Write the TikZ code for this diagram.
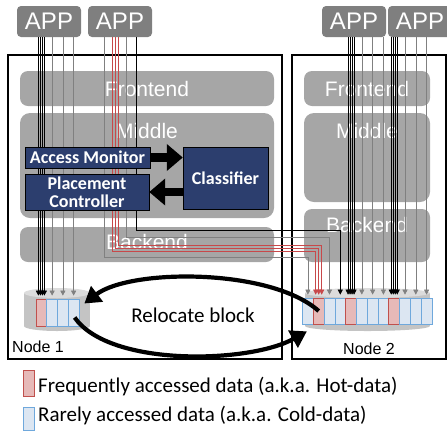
\documentclass[tikz,border=0pt]{standalone}
\usepackage{fontspec}
\setmainfont{Liberation Sans}
\newfontfamily\calibri{Carlito}
\usetikzlibrary{arrows.meta,calc,positioning}

\definecolor{appgray}{HTML}{7F7F7F}
\definecolor{layergray}{HTML}{A6A6A6}
\definecolor{modblue}{RGB}{44,62,110}
\definecolor{hotfill}{HTML}{E6B9B8}
\definecolor{hotdraw}{HTML}{C0504D}
\definecolor{coldfill}{HTML}{DCE6F2}
\definecolor{colddraw}{HTML}{6FA8DC}
\definecolor{diskbody}{HTML}{C4C4C4}
\definecolor{disktop}{HTML}{DCDCDC}
\definecolor{wiregray}{HTML}{808080}
\definecolor{wirered}{HTML}{C8484A}

\tikzstyle{app} = [
rectangle,
rounded corners=4pt,
minimum width=64pt,
minimum height=31pt,
inner sep=0pt,
fill=appgray,
text=white,
font=\fontsize{24}{24}\selectfont
]
\tikzstyle{frame} = [
rectangle,
draw=black,
line width=1.6pt
]
\tikzstyle{layer} = [
rectangle,
rounded corners=8pt,
fill=layergray,
text=white,
inner sep=0pt,
font=\fontsize{21}{21}\selectfont
]
\tikzstyle{layertext} = [
inner sep=0pt,
text=white,
font=\fontsize{21}{21}\selectfont
]
\tikzstyle{module} = [
rectangle,
draw=black,
fill=modblue,
text=white,
align=center,
inner sep=0pt,
font=\calibri\bfseries\fontsize{18}{18}\selectfont
]
\tikzstyle{hotblock} = [
rectangle,
draw=hotdraw,
fill=hotfill,
line width=0.7pt,
inner sep=0pt
]
\tikzstyle{coldblock} = [
rectangle,
draw=colddraw,
fill=coldfill,
line width=0.7pt,
inner sep=0pt
]
\tikzstyle{hotwire} = [
draw=black,
line width=0.6pt,
->,
>={Triangle[length=5pt,width=5pt]}
]
\tikzstyle{coldwire} = [
draw=wiregray,
line width=0.6pt,
->,
>={Triangle[length=5pt,width=5pt]}
]
\tikzstyle{redwire} = [
draw=wirered,
line width=0.6pt,
->,
>={Triangle[length=5pt,width=5pt]}
]
\tikzstyle{blockarrow} = [
line width=8.5pt,
-{Triangle[length=16pt,width=26pt]}
]
\tikzstyle{relocate} = [
line width=4.2pt,
-{Triangle[length=16pt,width=19pt]}
]

\begin{document}
\begin{tikzpicture}[
x=1pt,
y=-1pt
]
\useasboundingbox (0,0) rectangle (447,432);

% Nodes
\node (node1) [frame, minimum width=274pt, minimum height=304pt] at (145,207) {};
\node (node2) [frame, minimum width=154pt, minimum height=304pt] at (369,207) {};

\node (app1) [app] at (49,21.5) {APP};
\node (app2) [app] at (120,21.5) {APP};
\node (app3) [app] at (354,21.5) {APP};
\node (app4) [app] at (420,21.5) {APP};

\node (front1) [layer, minimum width=254pt, minimum height=35pt] at (147,88.5) {Frontend};
\node (mid1) [layer, minimum width=254pt, minimum height=105pt, rounded corners=10pt] at (147,165.5) {};
\node (back1) [layer, minimum width=254pt, minimum height=35pt] at (147,244.5) {};
\node (front2) [layer, minimum width=126pt, minimum height=35pt] at (367,88.5) {Frontend};
\node (mid2) [layer, minimum width=126pt, minimum height=89pt, rounded corners=10pt] at (367,157.5) {};
\node (back2) [layer, minimum width=126pt, minimum height=53pt] at (367,235.5) {};

\node (mid1lab) [layertext, below=10pt of mid1.north] {Middle};
\node (back1lab) [layertext] at (147,242) {Backend};
\node (mid2lab) [layertext, below=10pt of mid2.north] {Middle};
\node (back2lab) [layertext, below=8pt of back2.north] {Backend};

% disks
\fill[diskbody] (24,293) rectangle (90,326);
\fill[diskbody] (57,326) ellipse [x radius=33pt, y radius=5pt];
\fill[disktop] (57,293) ellipse [x radius=33pt, y radius=5pt];
\fill[diskbody] (305,293) rectangle (430,326);
\fill[diskbody] (367.5,326) ellipse [x radius=62.5pt, y radius=5pt];
\fill[disktop] (367.5,293) ellipse [x radius=62.5pt, y radius=5pt];

\foreach \k/\s in {1/hotblock,2/coldblock,3/coldblock,4/coldblock}
  \node (n1b\k) [\s, minimum width=10.75pt, minimum height=27pt] at ({36+10.75*(\k-0.5)},312.5) {};
\foreach \k/\s in {1/coldblock,2/hotblock,3/coldblock,4/coldblock,5/hotblock,6/coldblock,
                   7/coldblock,8/coldblock,9/hotblock,10/coldblock,11/coldblock,12/coldblock}
  \node (n2b\k) [\s, minimum width=10.79pt, minimum height=26pt] at ({302.5+10.79*(\k-0.5)},311) {};

% Wires
\foreach \d in {-3,-1,1,3}
  \draw[hotwire] ($(n1b1.north |- app1.south)+(\d,0)$) -- ($(n1b1.north)+(\d,-3)$);
\foreach \k in {2,3,4}
  \draw[coldwire] (n1b\k.north |- app1.south) -- ($(n1b\k.north)+(0,-3)$);

\foreach \dx/\yt/\k/\ex/\s in {-16/258/1/0/coldwire, -8/252/2/-3/redwire, -5/249/2/0/redwire,
                               -2/246/2/3/redwire, 6/238/3/0/coldwire, 16/231/4/0/hotwire}
  \draw[\s] ($(app2.south)+(\dx,0)$) |- ($(n2b\k.north)+(\ex,\yt-298)$) -- ($(n2b\k.north)+(\ex,-3)$);

\foreach \a/\h in {3/5,4/9}
  \foreach \d in {-3,-1,1,3}
    \draw[hotwire] ($(n2b\h.north |- app\a.south)+(\d,0)$) -- ($(n2b\h.north)+(\d,-3)$);
\foreach \a/\k in {3/6,3/7,3/8,4/10,4/11,4/12}
  \draw[coldwire] (n2b\k.north |- app\a.south) -- ($(n2b\k.north)+(0,-3)$);

% Modules
\node (monitor) [module, minimum width=125pt, minimum height=21pt] at (87.5,157.5) {Access Monitor};
\node (placer) [module, minimum width=124pt, minimum height=36pt] at (87,192) {Placement\\Controller};
\node (classifier) [module, minimum width=85pt, minimum height=62pt] at (225.5,178) {Classifier};

\draw[blockarrow] (monitor.east) -- (monitor.east -| classifier.west);
\draw[blockarrow] (classifier.west |- placer.east) -- (placer.east);

% Relocation
\draw[relocate] (n2b2.center) .. controls +(-48,-43) and +(46,-35) .. ($(n1b4.east)+(5,-9)$);
\draw[relocate] ($(n1b4.center)+(1,5)$) .. controls +(35,50) and +(-57,32) .. ($(n2b1.south)+(-1,7)$);
\node (reloc) [font=\calibri\fontsize{21}{21}\selectfont, anchor=base] at (193,322) {Relocate block};

\node (node1lab) [anchor=base west, inner sep=0pt, font=\fontsize{16}{16}\selectfont] at (12,352) {Node 1};
\node (node2lab) [anchor=base west, inner sep=0pt, font=\fontsize{16}{16}\selectfont] at (343,354) {Node 2};

% Legend
\node (hotkey) [hotblock, minimum width=11pt, minimum height=26pt] at (28.5,383) {};
\node (coldkey) [coldblock, minimum width=11pt, minimum height=23pt] at (28.5,418.5) {};
\node (hotlab) [anchor=base west, inner sep=0pt, font=\calibri\fontsize{21}{21}\selectfont] at (38,392) {Frequently accessed data (a.k.a. Hot-data)};
\node (coldlab) [anchor=base west, inner sep=0pt, font=\calibri\fontsize{21}{21}\selectfont] at (38,421) {Rarely accessed data (a.k.a. Cold-data)};

\end{tikzpicture}
\end{document}
